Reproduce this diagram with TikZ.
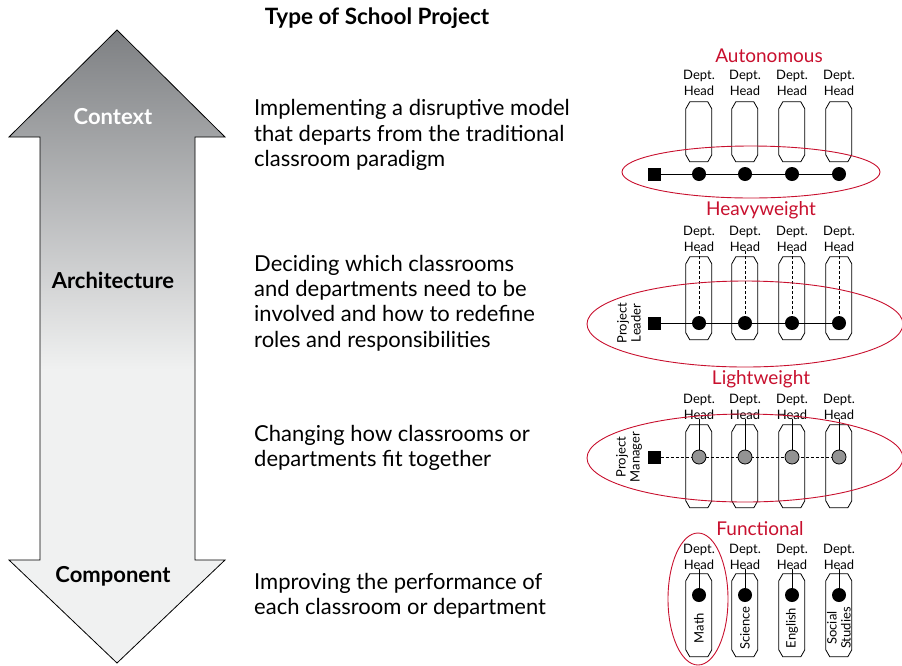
\documentclass[tikz,border=0pt]{standalone}
\usepackage{fontspec}
\setmainfont{Lato}
\usetikzlibrary{backgrounds}
\definecolor{projred}{HTML}{C8102E}
\definecolor{arrowdark}{HTML}{7E8083}
\definecolor{arrowlight}{HTML}{F0F1F1}
\definecolor{dotgrey}{HTML}{939393}
% chamfered outline round a named capsule node: #1 node, #2 height
\newcommand\capsuleline[2]{%
  \draw[line width=0.8pt] (#1.north west) ++(0,7) -- ++(0,#2-14) -- ++(4,7) -- ++(18,0)
    -- ++(4,-7) -- ++(0,14-#2) -- ++(-4,-7) -- ++(-18,0) -- cycle;}
\tikzset{
  capsule/.style={rectangle, minimum width=26pt, inner sep=0pt},
  headlbl/.style={font=\fontsize{13}{16}\selectfont, align=center, inner sep=0pt},
  typelbl/.style={font=\fontsize{19}{20}\selectfont, text=projred, inner sep=0pt},
  dot/.style={circle, fill=black, minimum size=14pt, inner sep=0pt},
  greydot/.style={circle, fill=dotgrey, draw=black, line width=0.8pt, minimum size=14pt, inner sep=0pt},
  leader/.style={rectangle, fill=black, minimum size=13pt, inner sep=0pt},
  sidelbl/.style={font=\fontsize{13}{14}\selectfont, align=center, rotate=90, inner sep=0pt},
  bodytxt/.style={font=\fontsize{22}{25.3}\selectfont, align=left, anchor=west, inner sep=0pt},
  arrowtxt/.style={font=\fontsize{22}{24}\selectfont\bfseries, inner sep=0pt},
  ring/.style={draw=projred, line width=0.9pt}
}
\begin{document}
\begin{tikzpicture}[x=1pt,y=-1pt]
  \useasboundingbox (0,0) rectangle (902,665);
  % big double arrow
  \def\arrowpath{(117,30) -- (225,137) -- (195,137) -- (195,560) -- (225,560) -- (117,663)
    -- (9,560) -- (40,560) -- (40,137) -- (9,137) -- cycle}
  \begin{scope}
    \clip \arrowpath;
    \shade[top color=arrowdark, bottom color=arrowlight] (0,30) rectangle (240,370);
    \fill[arrowlight] (0,369) rectangle (240,665);
  \end{scope}
  \draw[line width=0.8pt] \arrowpath;
  \node[arrowtxt, text=white] (context) at (113,117) {Context};
  \node[arrowtxt] (architecture) at (113,280) {Architecture};
  \node[arrowtxt] (component) at (113,576) {Component};

  \node[font=\fontsize{22.5}{24}\selectfont\bfseries] (title) at (377,18) {Type of School Project};

  \node[bodytxt] (txtauto) at (254,135) {Implementing a disruptive model\\that departs from the traditional\\classroom paradigm};
  \node[bodytxt] (txtheavy) at (254,303) {Deciding which classrooms\\and departments need to be\\involved and how to redefine\\roles and responsibilities};
  \node[bodytxt] (txtlight) at (254,448) {Changing how classrooms or\\departments fit together};
  \node[bodytxt] (txtfunc) at (254,596) {Improving the performance of\\each classroom or department};

  % autonomous
  \node[typelbl] (auto) at (769,56) {Autonomous};
  \node[leader] (sa) at (654,174) {};
  \foreach \x/\i in {699/1,745/2,792/3,839/4} {
    \node[headlbl] (ha\i) at (\x,83) {Dept.\\Head};
    \node[capsule, minimum height=60pt] (ca\i) at (\x,132) {};
    \capsuleline{ca\i}{60}
    \node[dot] (da\i) at (\x,174) {};
  }
  \begin{scope}[on background layer]
    \draw[line width=0.9pt] (sa) -- (da4);
  \end{scope}
  \draw[ring] (751,172) ellipse [x radius=129pt, y radius=26pt];

  % heavyweight
  \node[typelbl] (heavy) at (761,210) {Heavyweight};
  \node[leader] (sb) at (654,323) {};
  \node[sidelbl] (pleader) at (629,323) {Project\\Leader};
  \foreach \x/\i in {699/1,745/2,792/3,839/4} {
    \node[headlbl] (hb\i) at (\x,238.5) {Dept.\\Head};
    \node[capsule, minimum height=83pt] (cb\i) at (\x,298.5) {};
    \capsuleline{cb\i}{83}
    \node[dot] (db\i) at (\x,323) {};
    \draw[densely dashed, line width=0.8pt] (hb\i.south) -- (db\i);
  }
  \begin{scope}[on background layer]
    \draw[line width=0.9pt] (sb) -- (db4);
  \end{scope}
  \draw[ring] (745,324) ellipse [x radius=158pt, y radius=43pt];

  % lightweight
  \node[typelbl] (light) at (761,379) {Lightweight};
  \node[leader] (sc) at (654,457) {};
  \node[sidelbl] (pmanager) at (629,457) {Project\\Manager};
  \foreach \x/\i in {699/1,745/2,792/3,839/4} {
    \node[headlbl] (hc\i) at (\x,406.5) {Dept.\\Head};
    \node[capsule, minimum height=83pt] (cc\i) at (\x,466.5) {};
    \capsuleline{cc\i}{83}
    \node[greydot] (dc\i) at (\x,457) {};
    \draw[line width=0.8pt] (hc\i.south) -- (dc\i);
  }
  \begin{scope}[on background layer]
    \draw[densely dashed, line width=0.9pt] (sc) -- (dc4);
  \end{scope}
  \draw[ring] (745,458) ellipse [x radius=158pt, y radius=44pt];

  % functional
  \node[typelbl] (func) at (760,529) {Functional};
  \foreach \x/\i/\dept in {699/1/Math,745/2/Science,792/3/English,839/4/Social\\Studies} {
    \node[headlbl] (hd\i) at (\x,556.5) {Dept.\\Head};
    \node[capsule, minimum height=83pt] (cd\i) at (\x,615.5) {};
    \capsuleline{cd\i}{83}
    \node[dot] (dd\i) at (\x,595) {};
    \draw[line width=0.8pt] (hd\i.south) -- (dd\i);
    \node[sidelbl] (nd\i) at (\x,628) {\dept};
  }
  \draw[ring] (698,599) ellipse [x radius=30pt, y radius=66pt];
\end{tikzpicture}
\end{document}
